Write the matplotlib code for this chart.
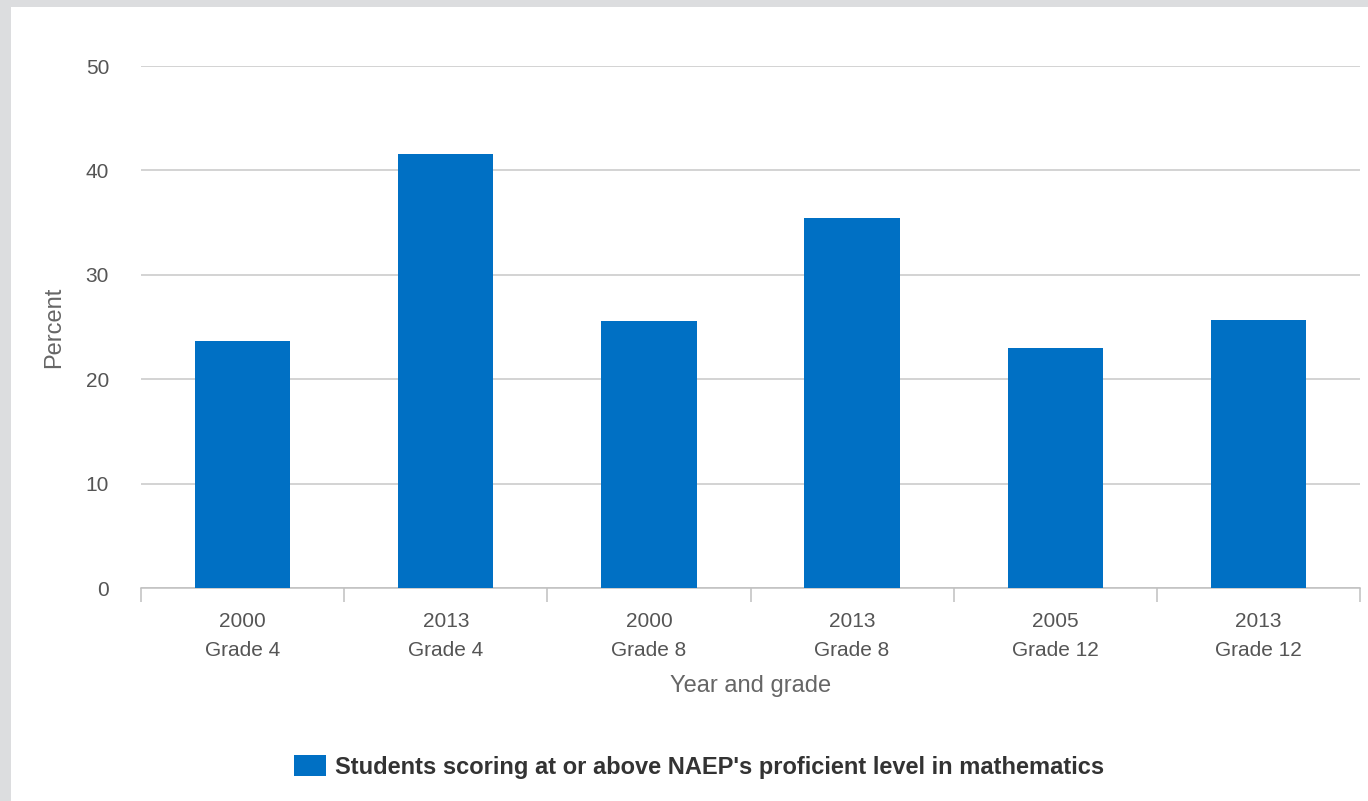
import matplotlib
matplotlib.use("Agg")
import matplotlib.pyplot as plt
from matplotlib.patches import Rectangle, Patch

years = ["2000", "2013", "2000", "2013", "2005", "2013"]
grades = ["Grade 4", "Grade 4", "Grade 8", "Grade 8", "Grade 12", "Grade 12"]
percent = [23.7, 41.6, 25.6, 35.4, 23.0, 25.7]
y_ticks = [0, 10, 20, 30, 40, 50]
series_name = "Students scoring at or above NAEP's proficient level in mathematics"

BAR = "#0070c4"
GRID = "#cccccc"
AXIS = "#c0c0c0"
TEXT = "#555555"

plt.rcParams["font.family"] = ["Liberation Sans", "DejaVu Sans"]

fig = plt.figure(figsize=(13.68, 8.01), dpi=100)
fig.patch.set_facecolor("#dcdddf")
fig.patches.append(Rectangle((11 / 1368, 0), 1, 1 - 7 / 801,
                             transform=fig.transFigure, facecolor="white",
                             edgecolor="none", zorder=-5))

ax = fig.add_axes([141 / 1368, 1 - 588 / 801, (1360 - 141) / 1368, (588 - 66) / 801])
ax.set_zorder(2)
ax.set_facecolor("white")

x = list(range(len(percent)))
ax.bar(x, percent, width=0.47, color=BAR, zorder=3)

ax.set_xlim(-0.5, len(percent) - 0.5)
ax.set_ylim(0, 50)
ax.set_yticks(y_ticks)
ax.yaxis.grid(True, color=GRID, linewidth=1.2, zorder=0)
ax.tick_params(axis="y", length=0, pad=23, labelsize=15, labelcolor=TEXT)

ax.set_xticks(x)
ax.set_xticklabels([f"{y}\n{g}" for y, g in zip(years, grades)], linespacing=1.68)
ax.set_xticks([i - 0.5 for i in range(len(percent) + 1)], minor=True)
ax.tick_params(axis="x", which="major", length=0, pad=17, labelsize=15, labelcolor=TEXT)
ax.tick_params(axis="x", which="minor", length=10, width=1.1, color=AXIS)

for side in ("top", "right", "left"):
    ax.spines[side].set_visible(False)
ax.spines["bottom"].set_color(AXIS)
ax.spines["bottom"].set_linewidth(1.1)

ax.set_ylabel("Percent", fontsize=17, color="#666666", labelpad=15)
ax.set_xlabel("Year and grade", fontsize=17, color="#666666", labelpad=11)

leg = fig.legend(handles=[Patch(facecolor=BAR, edgecolor="none", label=series_name)],
                 loc="center", bbox_to_anchor=(699 / 1368, 1 - 767 / 801),
                 frameon=False, handlelength=1.36, handleheight=1.0, handletextpad=0.38,
                 prop={"weight": "bold", "size": 17}, labelcolor="#333333")
leg.set_zorder(3)

fig.savefig("out.png", dpi=100, facecolor=fig.get_facecolor())
